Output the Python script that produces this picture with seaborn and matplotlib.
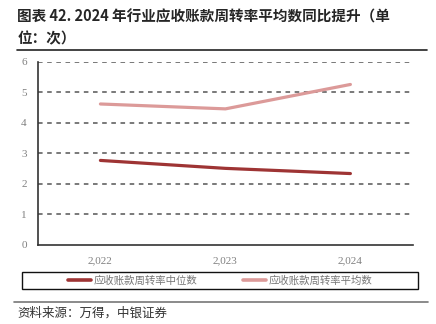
import matplotlib
matplotlib.use("Agg")
import matplotlib.pyplot as plt
import seaborn as sns
import pandas as pd
from matplotlib.lines import Line2D
from matplotlib.patches import Rectangle

years = ["2,022", "2,023", "2,024"]
median_turnover = [2.77, 2.51, 2.34]
mean_turnover = [4.62, 4.46, 5.26]
series_names = ["应收账款周转率中位数", "应收账款周转率平均数"]
colors = ["#9E3434", "#DC9A99"]

sns.set_theme(style="white")
plt.rcParams["font.family"] = ["Liberation Serif", "Noto Sans CJK SC", "DejaVu Sans"]

df = pd.DataFrame({
    "year": years * 2,
    "value": median_turnover + mean_turnover,
    "series": [series_names[0]] * 3 + [series_names[1]] * 3,
})

fig = plt.figure(figsize=(4.36, 3.24), dpi=100)
ax = fig.add_axes([0.087, 0.244, 0.86, 0.565])

sns.lineplot(data=df, x="year", y="value", hue="series", palette=colors,
             linewidth=2.3, ax=ax, legend=False, sort=False)

ax.set_xlim(-0.5, 2.5)
ax.set_ylim(0, 6)
ax.set_yticks(range(0, 7))
ax.set_xticks([-0.5, 0.5, 1.5, 2.5], minor=False)
ax.set_xticklabels([])
ax.set_xticks([0, 1, 2], minor=True)
ax.set_xticklabels(years, minor=True)
ax.tick_params(axis="x", which="major", length=4, width=1, color="#333333", direction="out")
ax.tick_params(axis="x", which="minor", length=0, pad=8, labelsize=8, labelcolor="#808080")
ax.tick_params(axis="y", length=3, width=1, color="#333333", labelsize=8, labelcolor="#808080", pad=5)
ax.set_xlabel("")
ax.set_ylabel("")

for y in range(1, 7):
    ax.axhline(y, color="#555555", linestyle=(0, (3, 3)), linewidth=1.1, zorder=0)

for side in ["top", "right"]:
    ax.spines[side].set_visible(False)
for side in ["left", "bottom"]:
    ax.spines[side].set_color("#333333")
    ax.spines[side].set_linewidth(1.2)

# Title
title_font = ["Noto Sans CJK SC", "DejaVu Sans"]
fig.text(0.04, 0.975, "图表 42. 2024 年行业应收账款周转率平均数同比提升（单",
         fontsize=10.5, fontweight="bold", va="top", ha="left", family=title_font)
fig.text(0.04, 0.905, "位：次）", fontsize=10.5, fontweight="bold", va="top", ha="left",
         family=title_font)
fig.add_artist(Line2D([0.04, 0.98], [0.847, 0.847], color="#222222", linewidth=1.2))

# Legend with a separate box frame
fig.add_artist(Rectangle((0.051, 0.108), 0.908, 0.053, transform=fig.transFigure,
                         fill=False, edgecolor="#111111", linewidth=1.0))
handles = [Line2D([0], [0], color=c, linewidth=2.6) for c in colors]
leg = fig.legend(handles, series_names, loc="center", bbox_to_anchor=(0.505, 0.1345),
                 ncol=2, frameon=False, handlelength=2.2, handletextpad=0.25,
                 columnspacing=4.4, prop={"family": ["Noto Sans CJK SC"], "size": 7.5})
for t in leg.get_texts():
    t.set_color("#777777")

# Footer
fig.add_artist(Line2D([0.032, 0.982], [0.068, 0.068], color="#777777", linewidth=1.2))
fig.text(0.04, 0.055, "资料来源：万得，中银证券", fontsize=9, style="italic", va="top", ha="left",
         family=["Noto Sans CJK SC", "DejaVu Sans"], color="#333333")

fig.savefig("out.png", dpi=100)
